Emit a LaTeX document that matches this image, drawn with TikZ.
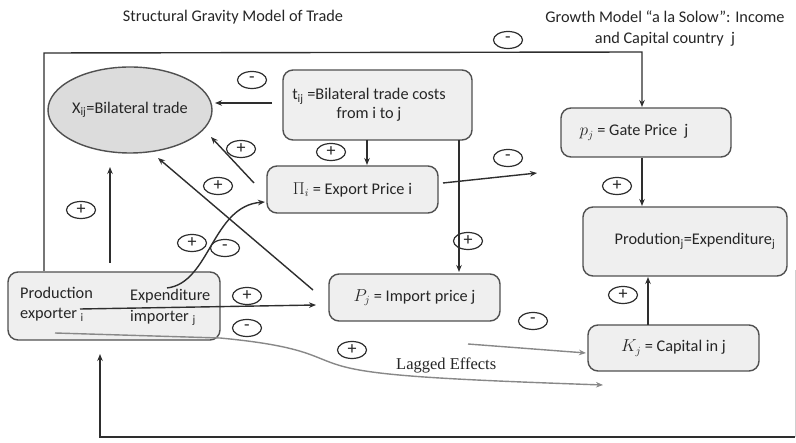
\documentclass[tikz,border=0pt]{standalone}
\usepackage{fontspec}
\setmainfont{Carlito}
\newfontfamily\serifx{Liberation Serif}
\usetikzlibrary{arrows.meta,shapes.geometric}
\definecolor{linec}{HTML}{2E2E2E}
\definecolor{boxc}{HTML}{505050}
\definecolor{boxf}{HTML}{EFEFEF}
\definecolor{ellf}{HTML}{DCDCDC}
\definecolor{grayc}{HTML}{888888}
\definecolor{textc}{HTML}{262626}
\begin{document}
\begin{tikzpicture}[x=1pt,y=-1pt,
  every node/.style={font=\fontsize{16.3}{19}\selectfont, inner sep=0pt, text=textc},
  box/.style={draw=boxc, fill=boxf, rounded corners=10pt, line width=1.4pt},
  sign/.style={draw=linec, ellipse, minimum width=29pt, minimum height=17pt, line width=1.2pt, font=\fontsize{18}{18}\selectfont},
  arr/.style={draw=linec, line width=1.4pt, -{Stealth[length=7pt,width=5.5pt]}},
  garr/.style={draw=grayc, line width=1.4pt, -{Stealth[length=7pt,width=5.5pt]}},
]
\fill[white] (0,0) rectangle (796,443);
\useasboundingbox (0,0) rectangle (796,443);

% titles
\node (title) at (233,17) {Structural Gravity Model of Trade};
\node[align=center] (growth) at (665,29) {Growth Model “a la Solow”: Income\\[2pt]and Capital country\ \ j};

% boxes
\node[draw=boxc, fill=ellf, ellipse, minimum width=164pt, minimum height=86pt, line width=1.4pt] (X) at (130,110) {X\textsubscript{ij}=Bilateral trade};
\node[box, minimum width=189pt, minimum height=70pt] (tij) at (377.5,105) {};
\node[align=center] (tijtext) at (369,105) {t\textsubscript{ij} =Bilateral trade costs\\from i to j};
\node[box, minimum width=171pt, minimum height=47pt] (Pi) at (352.5,189.5) {$\Pi_i$ = Export Price i};
\node[box, minimum width=170pt, minimum height=49pt] (gate) at (646,132.5) {};
\node (gatetext) at (634,132.5) {$p_j$ = Gate Price\ \ j};
\node[box, minimum width=204pt, minimum height=69pt] (prodj) at (685,241.5) {};
\node (prodjtext) at (695,241.5) {Prodution\textsubscript{j}=Expenditure\textsubscript{j}};
\node[box, minimum width=171pt, minimum height=46pt] (Kj) at (673.5,348) {$K_j$ = Capital in j};
\node[box, minimum width=171pt, minimum height=47pt] (Pj) at (414.5,297.5) {$P_j$ = Import price j};
\node[box, minimum width=212pt, minimum height=68pt] (prod) at (114,306) {};
\node[anchor=west] (prodA) at (20,293) {Production};
\node[anchor=west] (prodB) at (20,315) {exporter \textsubscript{i}};
\node[anchor=west] (prodC) at (130,296) {Expenditure};
\node[anchor=west] (prodD) at (130,318) {importer \textsubscript{j}};
\node[font=\serifx\fontsize{16.5}{19}\selectfont, anchor=west] (lag) at (396,365) {Lagged Effects};

% coordinates for free ends
\coordinate (a1s) at (272,103); \coordinate (a1e) at (215,103);
\coordinate (a2s) at (254,183); \coordinate (a2e) at (211,137);
\coordinate (a3s) at (313,290); \coordinate (a3e) at (158,158);
\coordinate (a4s) at (110,263); \coordinate (a4e) at (110,167);
\coordinate (a5s) at (367,140); \coordinate (a5e) at (367,165);
\coordinate (a6s) at (459,140); \coordinate (a6e) at (459,272);
\coordinate (a7s) at (443,183); \coordinate (a7e) at (537,173);
\coordinate (a8s) at (167,288); \coordinate (a8e) at (265,202);
\coordinate (a9s) at (80,309); \coordinate (a9e) at (316,305);
\coordinate (a10s) at (55,333); \coordinate (a10e) at (603,385);
\coordinate (a11s) at (468,344); \coordinate (a11e) at (586,353);
\coordinate (a12s) at (642,158); \coordinate (a12e) at (642,206);
\coordinate (a13s) at (648,325); \coordinate (a13e) at (648,277);
\coordinate (f1) at (44,271); \coordinate (f2) at (44,53); \coordinate (f3) at (642,52); \coordinate (f4) at (642,107);
\coordinate (b0) at (795,270); \coordinate (b1) at (795,437); \coordinate (b2) at (100,437); \coordinate (b3) at (100,354);

% connectors
\draw[arr] (a1s) -- (a1e);
\draw[arr] (a2s) -- (a2e);
\draw[arr] (a3s) -- (a3e);
\draw[arr] (a4s) -- (a4e);
\draw[arr] (a5s) -- (a5e);
\draw[arr] (a6s) -- (a6e);
\draw[arr] (a7s) -- (a7e);
\draw[arr] (a8s) .. controls (210,283) and (212,206) .. (a8e);
\draw[arr] (a9s) -- (a9e);
\draw[garr] (a10s) -- (220,338) .. controls (305,346) and (312,357) .. (338,365) .. controls (370,375) and (430,379) .. (a10e);
\draw[garr] (a11s) -- (a11e);
\draw[arr] (a12s) -- (a12e);
\draw[arr] (a13s) -- (a13e);
\draw[arr] (f1) -- (f2) -- (f3) -- (f4);
\draw[draw=grayc!40, line width=1pt] (b0) -- (b1);
\draw[arr] (b1) -- (b2) -- (b3);

% signs
\node[sign] (s1) at (252,80) {-};
\node[sign] (s2) at (508,40) {-};
\node[sign] (s3) at (241,149) {+};
\node[sign] (s4) at (331,152) {+};
\node[sign] (s5) at (218,186) {+};
\node[sign] (s6) at (508,158) {-};
\node[sign] (s7) at (617,186) {+};
\node[sign] (s8) at (81,210) {+};
\node[sign] (s9) at (468,241) {+};
\node[sign] (s10) at (192,243) {+};
\node[sign] (s11) at (225,248) {-};
\node[sign] (s12) at (247,296) {+};
\node[sign] (s13) at (247,328) {-};
\node[sign] (s14) at (533,321) {-};
\node[sign] (s15) at (623,295) {+};
\node[sign] (s16) at (352,350) {+};
\end{tikzpicture}
\end{document}
